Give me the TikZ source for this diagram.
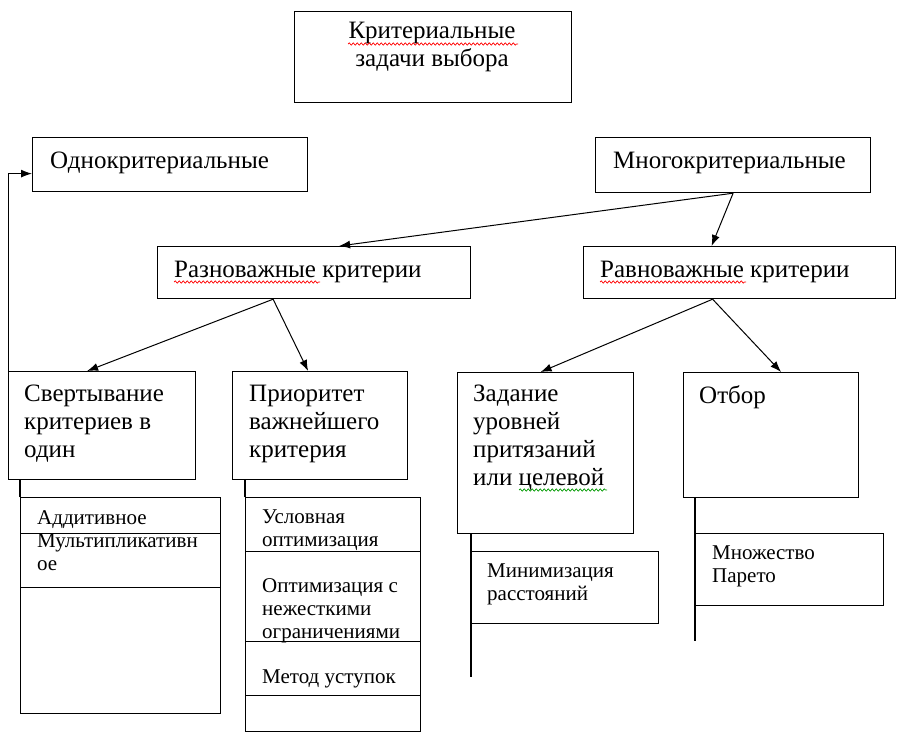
\documentclass[tikz,border=0pt]{standalone}
\usepackage{fontspec}
\setmainfont{Liberation Serif}
\usetikzlibrary{arrows.meta,decorations.pathmorphing}

\begin{document}
\begin{tikzpicture}[x=1pt, y=-1pt,
  box/.style={draw, line width=1.2pt, inner sep=0pt, anchor=north west},
  bigtext/.style={font=\fontsize{25}{28}\selectfont, align=left, inner sep=0pt, anchor=base west},
  smalltext/.style={font=\fontsize{21}{23}\selectfont, align=left, inner sep=0pt, anchor=base west},
  arr/.style={line width=1pt, -{Latex[length=11pt,width=8pt]}},
  squig/.style={decorate, decoration={snake, amplitude=1.1pt, segment length=4pt}, line width=0.7pt}]

\useasboundingbox (0,0) rectangle (905,744);

\node [box, minimum width=277, minimum height=91] (zadachi) at (294,11) {};
\node [bigtext, anchor=base, align=center] (zadachi-t) at (432,66) {Критериальные\\задачи выбора};
\draw [squig, red] (348,44) -- (518,44);

\node [box, minimum width=275, minimum height=54] (odno) at (32,137) {};
\node [bigtext] (odno-t) at (50,168) {Однокритериальные};
\node [box, minimum width=275, minimum height=55] (mnogo) at (595,137) {};
\node [bigtext] (mnogo-t) at (613,168) {Многокритериальные};

\node [box, minimum width=313, minimum height=52] (razno) at (157,246) {};
\node [bigtext] (razno-t) at (174,277) {Разноважные критерии};
\draw [squig, red] (174,282) -- (320,282);
\node [box, minimum width=312, minimum height=52] (ravno) at (583,246) {};
\node [bigtext] (ravno-t) at (600,277) {Равноважные критерии};
\draw [squig, red] (600,282) -- (746,282);

\node [box, minimum width=187, minimum height=108] (svert) at (8,371) {};
\node [bigtext] (svert-t) at (24,457) {Свертывание\\критериев в\\один};
\node [box, minimum width=175, minimum height=108] (prior) at (232,371) {};
\node [bigtext] (prior-t) at (249,457) {Приоритет\\важнейшего\\критерия};
\node [box, minimum width=176, minimum height=161] (zadan) at (457,372) {};
\node [bigtext] (zadan-t) at (473,485) {Задание\\уровней\\притязаний\\или целевой};
\draw [squig, green!60!black] (519,490) -- (607,490);
\node [box, minimum width=175, minimum height=125] (otbor) at (683,372) {};
\node [bigtext] (otbor-t) at (699,403) {Отбор};

\node [box, minimum width=200, minimum height=36] (svert-a) at (20,497) {};
\node [box, minimum width=200, minimum height=54] (svert-b) at (20,533) {};
\node [box, minimum width=200, minimum height=126] (svert-c) at (20,587) {};
\node [smalltext] (svert-at) at (37,524) {Аддитивное};
\node [smalltext] (svert-bt) at (37,570) {Мультипликативн\\ое};

\node [box, minimum width=175, minimum height=54] (prior-a) at (245,497) {};
\node [box, minimum width=175, minimum height=90] (prior-b) at (245,551) {};
\node [box, minimum width=175, minimum height=54] (prior-c) at (245,641) {};
\node [box, minimum width=175, minimum height=36] (prior-d) at (245,695) {};
\node [smalltext] (prior-at) at (262,546) {Условная\\оптимизация};
\node [smalltext] (prior-bt) at (262,638) {Оптимизация с\\нежесткими\\ограничениями};
\node [smalltext] (prior-ct) at (262,683) {Метод уступок};

\node [box, minimum width=187, minimum height=72] (minim) at (471,551) {};
\node [smalltext] (minim-t) at (487,600) {Минимизация\\расстояний};
\node [box, minimum width=188, minimum height=72] (pareto) at (695,533) {};
\node [smalltext] (pareto-t) at (712,582) {Множество\\Парето};

\coordinate (zadan-end) at (471,677);
\coordinate (otbor-end) at (695,641);

\draw [arr] (mnogo.south) -- ([xshift=25]razno.north);
\draw [arr] (mnogo.south) -- ([xshift=-28]ravno.north);
\draw [arr] ([xshift=-41]razno.south) -- ([xshift=-15]svert.north);
\draw [arr] ([xshift=-41]razno.south) -- ([xshift=-12]prior.north);
\draw [arr] ([xshift=-27]ravno.south) -- ([xshift=-5]zadan.north);
\draw [arr] ([xshift=-27]ravno.south) -- ([xshift=10]otbor.north);
\draw [arr] (svert.north west) |- ([yshift=-9]odno.west);

\draw [line width=1.2pt] (svert-a.north west) -- (svert-a.north west |- svert.south);
\draw [line width=1.2pt] (prior-a.north west) -- (prior-a.north west |- prior.south);
\draw [line width=1.2pt] (zadan-end |- zadan.south) -- (zadan-end);
\draw [line width=1.2pt] (otbor-end |- otbor.south) -- (otbor-end);

\end{tikzpicture}
\end{document}
